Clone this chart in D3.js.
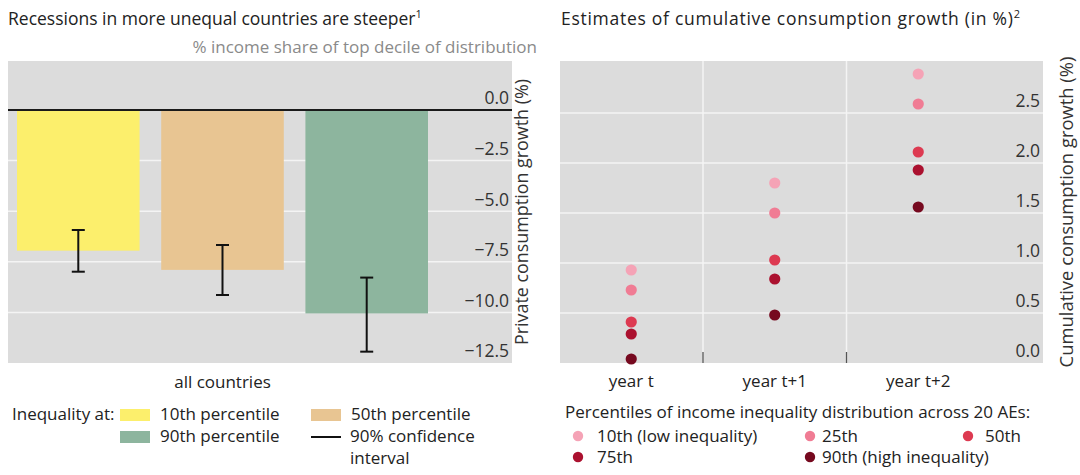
<!DOCTYPE html>
<html>
<head>
<meta charset="utf-8">
<script src="https://cdn.jsdelivr.net/npm/d3@7"></script>
<style>
  html, body { margin: 0; padding: 0; background: #ffffff; }
  svg { display: block; }
  text { font-family: "Open Sans", "Noto Sans", sans-serif; fill: #222; }
</style>
</head>
<body>
<svg id="chart" width="1080" height="475"></svg>
<script>
// ---- Left panel: consumption drop in recessions by inequality level ----
const groups = ["all countries"];
const inequalityLevels = ["10th percentile", "50th percentile", "90th percentile"];
const consumptionDrop = [-6.95, -7.9, -10.05];
const ciLow = [-7.99, -9.14, -11.94];
const ciHigh = [-5.93, -6.67, -8.28];
const leftTicks = [-12.5, -10, -7.5, -5, -2.5, 0];

// ---- Right panel: cumulative consumption growth by year and percentile ----
const years = ["year t", "year t+1", "year t+2"];
const percentiles = ["10th (low inequality)", "25th", "50th", "75th", "90th (high inequality)"];
const growth10 = [0.93, 1.80, 2.89];
const growth25 = [0.73, 1.50, 2.59];
const growth50 = [0.41, 1.03, 2.11];
const growth75 = [0.29, 0.84, 1.93];
const growth90 = [0.04, 0.48, 1.56];
const rightTicks = [0, 0.5, 1, 1.5, 2, 2.5];

const barColors = ["#fcef6c", "#e8c592", "#8db59e"];
const dotColors = ["#f5a3b6", "#f07c94", "#dd3a51", "#ab112f", "#76091f"];
const panelFill = "#dcdcdc";
const gridColor = "#f4f4f4";
const FS = 17;       // body text size
const TICK_FS = 17.5;

const svg = d3.select("#chart");

/* ================= Left panel ================= */
const L = { x0: 8, x1: 512, top: 61, bottom: 363 };
const yL = d3.scaleLinear().domain([-12.5, 2.42]).range([L.bottom, L.top]);
const xGroup = d3.scaleBand().domain(groups).range([17, 428]);
const xBar = d3.scaleBand().domain(inequalityLevels).range([0, xGroup.bandwidth()]).paddingInner(0.15);

svg.append("text").attr("x", 8).attr("y", 25).attr("font-size", 17.5)
  .text("Recessions in more unequal countries are steeper")
  .append("tspan").attr("font-size", 11).attr("dy", -7).text("1");

svg.append("text").attr("x", 537).attr("y", 53).attr("font-size", FS)
  .attr("text-anchor", "end").style("fill", "#8a8a8a")
  .text("% income share of top decile of distribution");

const left = svg.append("g");
left.append("rect").attr("x", L.x0).attr("y", L.top)
  .attr("width", L.x1 - L.x0).attr("height", L.bottom - L.top).attr("fill", panelFill);

left.selectAll("line.grid").data(leftTicks.filter(d => d !== 0 && d !== -12.5)).join("line")
  .attr("class", "grid")
  .attr("x1", L.x0).attr("x2", L.x1)
  .attr("y1", d => yL(d)).attr("y2", d => yL(d))
  .attr("stroke", gridColor).attr("stroke-width", 1.5);

const barData = inequalityLevels.map((k, i) => ({
  key: k, value: consumptionDrop[i], lo: ciLow[i], hi: ciHigh[i], color: barColors[i]
}));

left.selectAll("rect.bar").data(barData).join("rect")
  .attr("class", "bar")
  .attr("x", d => xGroup(groups[0]) + xBar(d.key))
  .attr("width", xBar.bandwidth())
  .attr("y", yL(0))
  .attr("height", d => yL(d.value) - yL(0))
  .attr("fill", d => d.color);

// 90% confidence intervals
const err = left.selectAll("g.err").data(barData).join("g").attr("class", "err")
  .attr("transform", d => `translate(${xGroup(groups[0]) + xBar(d.key) + xBar.bandwidth() / 2},0)`);
err.append("line").attr("y1", d => yL(d.hi)).attr("y2", d => yL(d.lo))
  .attr("stroke", "#111").attr("stroke-width", 2);
err.append("line").attr("x1", -6.5).attr("x2", 6.5).attr("y1", d => yL(d.hi)).attr("y2", d => yL(d.hi))
  .attr("stroke", "#111").attr("stroke-width", 2);
err.append("line").attr("x1", -6.5).attr("x2", 6.5).attr("y1", d => yL(d.lo)).attr("y2", d => yL(d.lo))
  .attr("stroke", "#111").attr("stroke-width", 2);

// zero line
left.append("line").attr("x1", L.x0).attr("x2", L.x1)
  .attr("y1", yL(0)).attr("y2", yL(0)).attr("stroke", "#1a1a1a").attr("stroke-width", 2);

const yAxisL = left.append("g").attr("transform", "translate(509,0)")
  .call(d3.axisLeft(yL).tickValues(leftTicks).tickSize(0).tickPadding(0).tickFormat(d3.format(".1f")));
yAxisL.select(".domain").remove();
yAxisL.selectAll("text").attr("font-size", TICK_FS).attr("font-family", null).attr("dy", "-0.35em").style("fill", "#333");

svg.append("text").attr("transform", `translate(528,${(L.top + L.bottom) / 2}) rotate(-90)`)
  .attr("text-anchor", "middle").attr("font-size", 17.9).style("fill", "#333")
  .text("Private consumption growth (%)");

const xAxisL = svg.append("g").attr("transform", `translate(0,${L.bottom})`)
  .call(d3.axisBottom(xGroup).tickSize(0).tickPadding(0));
xAxisL.select(".domain").remove();
xAxisL.selectAll("text").attr("font-size", FS).attr("font-family", null).attr("dy", 25).style("fill", "#222");

// Left legend
const legL = svg.append("g");
legL.append("text").attr("x", 12).attr("y", 420).attr("font-size", FS).text("Inequality at:");
const legPos = [[120, 409], [311, 409], [120, 431]];
inequalityLevels.forEach((k, i) => {
  legL.append("rect").attr("x", legPos[i][0]).attr("y", legPos[i][1]).attr("width", 30).attr("height", 12)
    .attr("fill", barColors[i]);
  legL.append("text").attr("x", legPos[i][0] + 40).attr("y", legPos[i][1] + 11).attr("font-size", FS).text(k);
});
legL.append("line").attr("x1", 311).attr("x2", 341).attr("y1", 437).attr("y2", 437)
  .attr("stroke", "#111").attr("stroke-width", 2);
legL.append("text").attr("x", 350).attr("y", 442).attr("font-size", FS).text("90% confidence");
legL.append("text").attr("x", 350).attr("y", 464).attr("font-size", FS).text("interval");

/* ================= Right panel ================= */
const R = { x0: 560, x1: 1043, top: 61, bottom: 363 };
const yR = d3.scaleLinear().domain([0, 3.02]).range([R.bottom, R.top]);
const xR = d3.scaleBand().domain(years).range([559.5, 990]);

svg.append("text").attr("x", 561).attr("y", 25).attr("font-size", 17.5).attr("letter-spacing", 0.72)
  .text("Estimates of cumulative consumption growth (in %)")
  .append("tspan").attr("font-size", 11).attr("dy", -7).attr("letter-spacing", 0).text("2");

const right = svg.append("g");
right.append("rect").attr("x", R.x0).attr("y", R.top)
  .attr("width", R.x1 - R.x0).attr("height", R.bottom - R.top).attr("fill", panelFill);

right.selectAll("line.hgrid").data(rightTicks.filter(d => d !== 0)).join("line")
  .attr("class", "hgrid")
  .attr("x1", R.x0).attr("x2", R.x1)
  .attr("y1", d => yR(d)).attr("y2", d => yR(d))
  .attr("stroke", gridColor).attr("stroke-width", 1.5);

const boundaries = years.slice(1).map(y => xR(y));
right.selectAll("line.vgrid").data(boundaries).join("line")
  .attr("class", "vgrid")
  .attr("x1", d => d).attr("x2", d => d)
  .attr("y1", R.top).attr("y2", R.bottom)
  .attr("stroke", gridColor).attr("stroke-width", 1.5);
right.selectAll("line.vtick").data(boundaries).join("line")
  .attr("class", "vtick")
  .attr("x1", d => d).attr("x2", d => d)
  .attr("y1", R.bottom - 11).attr("y2", R.bottom)
  .attr("stroke", "#555").attr("stroke-width", 1.3);

const series = [growth10, growth25, growth50, growth75, growth90];
const dots = [];
series.forEach((vals, s) => vals.forEach((v, i) => dots.push({ year: years[i], value: v, s })));
right.selectAll("circle.dot").data(dots).join("circle")
  .attr("class", "dot")
  .attr("cx", d => xR(d.year) + xR.bandwidth() / 2)
  .attr("cy", d => yR(d.value))
  .attr("r", 5.6)
  .attr("fill", d => dotColors[d.s]);

const yAxisR = right.append("g").attr("transform", "translate(1040,0)")
  .call(d3.axisLeft(yR).tickValues(rightTicks).tickSize(0).tickPadding(0).tickFormat(d3.format(".1f")));
yAxisR.select(".domain").remove();
yAxisR.selectAll("text").attr("font-size", TICK_FS).attr("font-family", null).attr("dy", "-0.35em").style("fill", "#333");

svg.append("text").attr("transform", `translate(1073,${(R.top + R.bottom) / 2}) rotate(-90)`)
  .attr("text-anchor", "middle").attr("font-size", 18.4).style("fill", "#333")
  .text("Cumulative consumption growth (%)");

const xAxisR = svg.append("g").attr("transform", `translate(0,${R.bottom})`)
  .call(d3.axisBottom(xR).tickSize(0).tickPadding(0));
xAxisR.select(".domain").remove();
xAxisR.selectAll("text").attr("font-size", FS).attr("font-family", null).attr("dy", 24).style("fill", "#222");

// Right legend
const legR = svg.append("g");
legR.append("text").attr("x", 565).attr("y", 418).attr("font-size", FS)
  .text("Percentiles of income inequality distribution across 20 AEs:");
const dotLegPos = [[578, 436], [810, 436], [968, 436], [578, 457], [810, 457]];
const dotTextX = [597, 822, 985, 597, 822];
percentiles.forEach((p, i) => {
  legR.append("circle").attr("cx", dotLegPos[i][0]).attr("cy", dotLegPos[i][1]).attr("r", 5.2)
    .attr("fill", dotColors[i]);
  legR.append("text").attr("x", dotTextX[i]).attr("y", dotLegPos[i][1] + 6).attr("font-size", FS).text(p);
});
</script>
</body>
</html>
